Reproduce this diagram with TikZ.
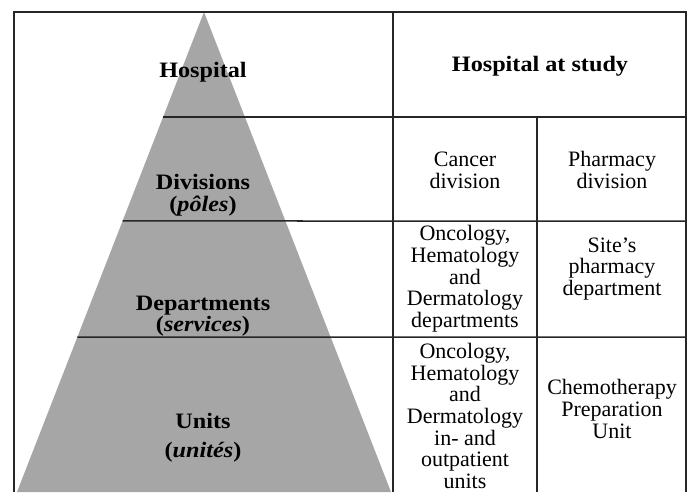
\documentclass[tikz,border=0pt]{standalone}
\usepackage{fontspec}
\setmainfont{Liberation Serif}[BoldFeatures={FakeStretch=1.1},BoldItalicFeatures={FakeStretch=1.1}]
\usetikzlibrary{calc}
\begin{document}
\begin{tikzpicture}[x=1pt,y=-1pt,
  rule/.style={line width=1.5pt,draw=black!85},
  lbl/.style={font=\fontsize{22}{21.7}\selectfont\bfseries,align=center,inner sep=0pt},
  cell/.style={font=\fontsize{22}{21.7}\selectfont,align=center,inner sep=0pt}]
\useasboundingbox (0,0) rectangle (692,492);
% pyramid
\coordinate (apex) at (204,12);
\coordinate (bl) at (17,492);
\coordinate (br) at (391,492);
\fill[fill=black!35] (apex) -- (br) -- (bl) -- cycle;
% frame
\coordinate (tl) at (14,12);
\coordinate (tr) at (686,12);
\coordinate (lb) at (14,492);
\coordinate (rb) at (686,492);
\coordinate (mt) at (393,12);
\coordinate (mb) at (393,492);
\coordinate (ct) at (537,117);
\coordinate (cb) at (537,492);
\draw[rule] (lb) -- (tl) -- (tr) -- (rb);
\draw[rule] (mt) -- (mb);
\draw[rule] (ct) -- (cb);
% horizontal rules starting at the pyramid's left edge
\coordinate (h1l) at ($(apex)!105/480!(bl)$);
\coordinate (h2l) at ($(apex)!209/480!(bl)$);
\coordinate (h3l) at ($(apex)!325/480!(bl)$);
\coordinate (h1r) at (686,117);
\coordinate (h2r) at (686,221);
\coordinate (h3r) at (686,337);
\draw[rule] (h1l) -- (h1r);
\draw[rule] (h2l) -- (h2r);
\draw[rule] (h3l) -- (h3r);
% pyramid labels
\node[lbl] (hosp) at (203,72) {Hospital};
\node[lbl] (div) at (203,195) {Divisions\\(\textit{pôles})};
\node[lbl] (dep) at (203,316) {Departments\\(\textit{services})};
\node[lbl,font=\fontsize{22}{29}\selectfont\bfseries] (uni) at (203,438) {Units\\(\textit{unités})};
% table cells
\node[lbl] (study) at (540,66) {Hospital at study};
\node[cell] (cancer) at (465,170) {Cancer\\division};
\node[cell] (pharm) at (612,170) {Pharmacy\\division};
\node[cell] (ohd) at (465,279) {Oncology,\\Hematology\\and\\Dermatology\\departments};
\node[cell] (site) at (612,269) {Site’s\\pharmacy\\department};
\node[cell] (ohdu) at (465,416) {Oncology,\\Hematology\\and\\Dermatology\\in- and\\outpatient\\units};
\node[cell] (cpu) at (612,409) {Chemotherapy\\Preparation\\Unit};
\end{tikzpicture}
\end{document}
